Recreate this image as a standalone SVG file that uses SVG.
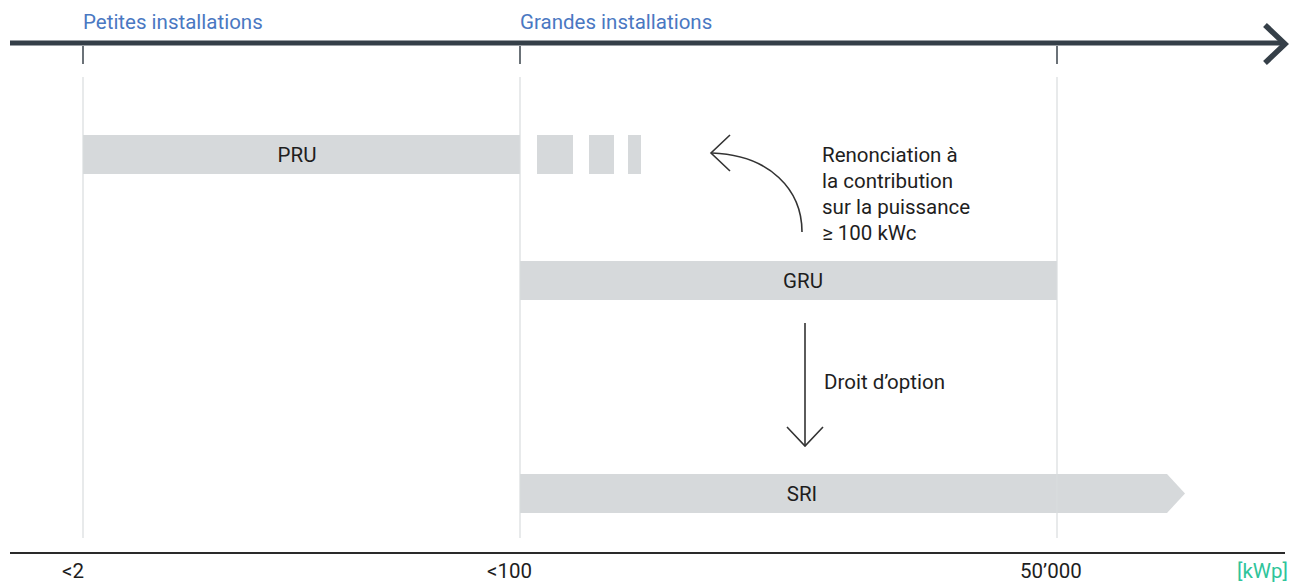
<svg xmlns="http://www.w3.org/2000/svg" width="1290" height="583" viewBox="0 0 1290 583">
<style>
text{font-family:Roboto,"Liberation Sans",sans-serif;font-size:20.5px;fill:#1e1e1e}
.cat{fill:#4a78c2}
.unit{fill:#2fc49a}
.bar{fill:#d6d9db}
.grid{stroke:#d9dcde;stroke-width:1.2}
.tick{stroke:#3a434b;stroke-width:1.5}
.conn{fill:none;stroke:#333;stroke-width:1.6}
</style>
<rect width="1290" height="583" fill="#fff"/>
<g id="axis-top">
<line x1="10" y1="43" x2="1284" y2="43" stroke="#353f48" stroke-width="5"/>
<polyline points="1265,25 1285,44 1265,63" fill="none" stroke="#353f48" stroke-width="5.5" stroke-linejoin="miter"/>
<line class="tick" x1="83" y1="46" x2="83" y2="64"/>
<line class="tick" x1="520" y1="46" x2="520" y2="64"/>
<line class="tick" x1="1057" y1="46" x2="1057" y2="64"/>
<text class="cat" x="83" y="29">Petites installations</text>
<text class="cat" x="520" y="29">Grandes installations</text>
</g>
<g id="PRU">
<rect class="bar" x="83" y="135" width="437" height="39"/>
<rect class="bar" x="537" y="135" width="36" height="39"/>
<rect class="bar" x="589" y="135" width="25" height="39"/>
<rect class="bar" x="628" y="135" width="13" height="39"/>
<text x="297" y="162" text-anchor="middle">PRU</text>
</g>
<g id="GRU">
<rect class="bar" x="520" y="261" width="537" height="39"/>
<text x="803" y="288" text-anchor="middle">GRU</text>
</g>
<g id="SRI">
<polygon class="bar" points="520,474 1167,474 1185,493.5 1167,513 520,513"/>
<text x="802" y="501" text-anchor="middle">SRI</text>
</g>
<g id="grid">
<line class="grid" x1="83" y1="77" x2="83" y2="538"/>
<line class="grid" x1="520" y1="77" x2="520" y2="538"/>
<line class="grid" x1="1057" y1="77" x2="1057" y2="538"/>
</g>
<g id="connectors">
<path class="conn" d="M802,232 C802,190 770,155 712,153"/>
<polyline class="conn" points="730,135 711,153 730,171"/>
<line class="conn" x1="805" y1="323" x2="805" y2="446"/>
<polyline class="conn" points="787,427 805,446 823,427"/>
<text x="822" y="162">Renonciation à</text>
<text x="822" y="188">la contribution</text>
<text x="822" y="214">sur la puissance</text>
<text x="822" y="240">≥ 100 kWc</text>
<text x="824" y="389">Droit d’option</text>
</g>
<g id="axis-bottom">
<line x1="10" y1="553" x2="1285" y2="553" stroke="#2a2a2a" stroke-width="2"/>
<text x="62" y="578">&lt;2</text>
<text x="487" y="578">&lt;100</text>
<text x="1020" y="578">50’000</text>
<text class="unit" x="1237" y="578">[kWp]</text>
</g>
</svg>
